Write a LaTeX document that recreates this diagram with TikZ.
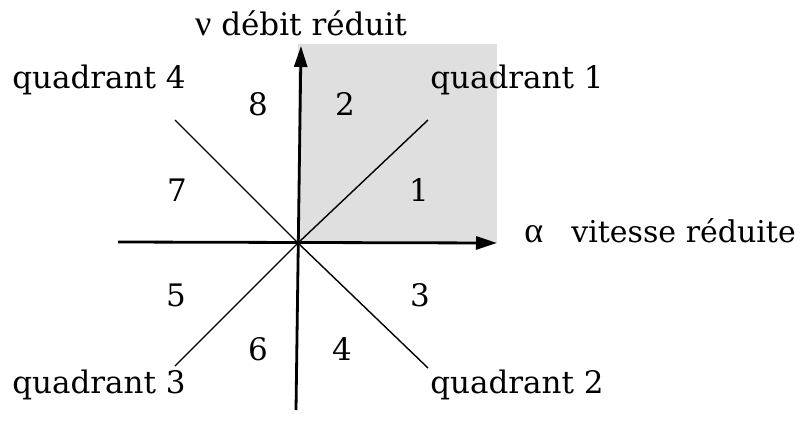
\documentclass[tikz,border=0pt]{standalone}
\usepackage{fontspec}
\setmainfont{DejaVu Serif}
\newfontfamily\grk{Liberation Serif}
\usetikzlibrary{arrows.meta}
\begin{document}
\begin{tikzpicture}[x=1pt,y=-1pt,
  lbl/.style={font=\fontsize{31}{34}\selectfont, inner sep=0pt},
  axis/.style={line width=2.8pt, -{Triangle[length=21pt,width=13pt]}},
  diag/.style={line width=1.4pt}]
\useasboundingbox (0,0) rectangle (801,421);
\fill[gray!25] (298,44) rectangle (497,243);
\coordinate (O) at (298,243);
\coordinate (L) at (118,242);
\coordinate (R) at (497,243);
\coordinate (T) at (301,46);
\coordinate (B) at (296,410);
\coordinate (Q1) at (428,120);
\coordinate (Q4) at (175,120);
\coordinate (Q3) at (175,366);
\coordinate (Q2) at (428,368);
\draw[diag] (Q4) -- (O) -- (Q2);
\draw[diag] (Q3) -- (O) -- (Q1);
\draw[axis] (L) -- (R);
\draw[axis] (B) -- (T);
\node[lbl] (nu) at (301,23) {{\grk\fontsize{36}{40}\selectfont ν} débit réduit};
\node[lbl,anchor=east,font=\fontsize{30}{34}\selectfont] (al) at (796,231) {{\grk\fontsize{36}{40}\selectfont α}\hspace*{28pt}vitesse réduite};
\node[lbl] (q4) at (99,80) {quadrant 4};
\node[lbl] (q1) at (517,80) {quadrant 1};
\node[lbl] (q3) at (99,385) {quadrant 3};
\node[lbl] (q2) at (517,385) {quadrant 2};
\node[lbl] (n8) at (258,104) {8};
\node[lbl] (n2) at (345,104) {2};
\node[lbl] (n7) at (177,190) {7};
\node[lbl] (n1) at (419,190) {1};
\node[lbl] (n5) at (176,295) {5};
\node[lbl] (n3) at (420,295) {3};
\node[lbl] (n6) at (258,349) {6};
\node[lbl] (n4) at (342,349) {4};
\end{tikzpicture}
\end{document}
